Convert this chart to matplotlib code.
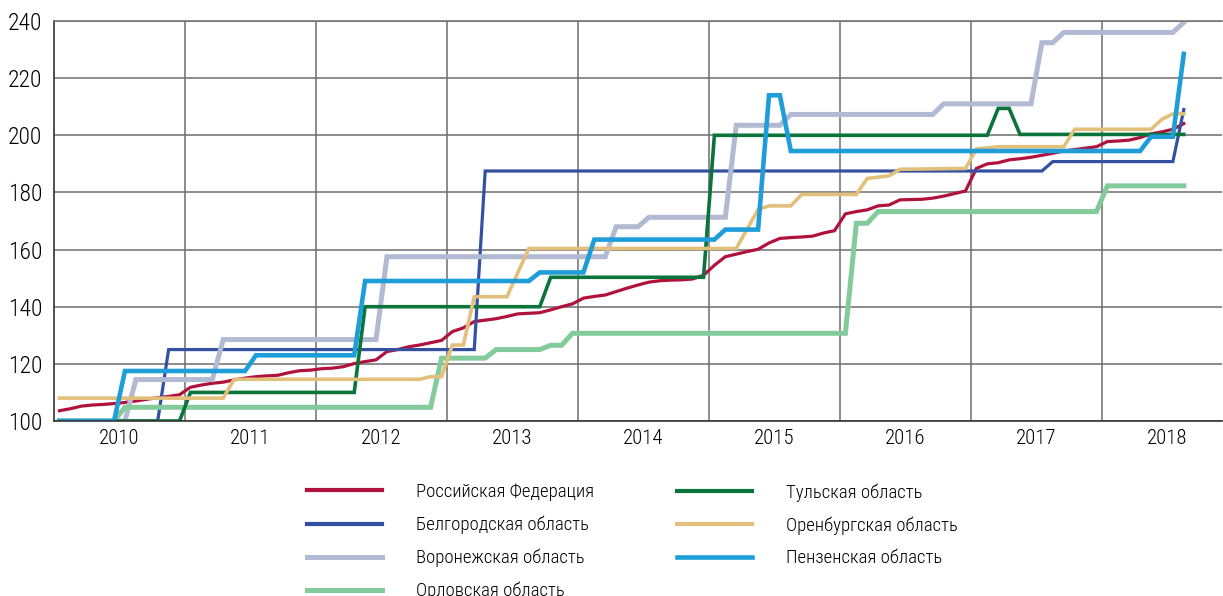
import matplotlib
matplotlib.use("Agg")
import matplotlib.pyplot as plt
import numpy as np

plt.rcParams['font.family'] = ['Roboto Condensed', 'Liberation Sans Narrow', 'Roboto', 'DejaVu Sans']
plt.rcParams['font.weight'] = 'light'

years = [2010, 2011, 2012, 2013, 2014, 2015, 2016, 2017, 2018]

# Российская Федерация, monthly from Jan 2010 to Aug 2018
rf_values = [
    103.6, 104.3, 105.2, 105.6, 105.8, 106.1, 106.5, 107.0, 107.6, 108.2, 108.6, 109.2,
    111.8, 112.6, 113.2, 113.6, 114.4, 115.0, 115.5, 115.8, 116.0, 116.9, 117.6, 117.8,
    118.3, 118.5, 119.0, 120.1, 120.8, 121.4, 124.3, 125.0, 126.0, 126.6, 127.4, 128.2,
    131.3, 132.6, 134.8, 135.3, 135.8, 136.6, 137.5, 137.7, 137.9, 138.9, 140.0, 141.0,
    143.0, 143.6, 144.1, 145.3, 146.5, 147.6, 148.6, 149.1, 149.3, 149.4, 149.7, 151.0,
    154.5, 157.5, 158.4, 159.3, 160.1, 162.3, 163.9, 164.2, 164.4, 164.7, 165.8, 166.6,
    172.5, 173.3, 173.9, 175.3, 175.6, 177.4, 177.5, 177.6, 178.0, 178.7, 179.6, 180.5,
    188.4, 190.0, 190.4, 191.4, 191.8, 192.3, 193.0, 193.7, 194.5, 195.0, 195.5, 196.0,
    197.8, 198.0, 198.3, 199.2, 200.5, 201.2, 202.1, 204.1,
]
rf_months = list(range(len(rf_values)))

# regional series: months (index from Jan 2010) where the level changes
belgorod_months = [0, 9, 10, 38, 39, 90, 91, 102, 103]
belgorod_values = [100, 100, 125, 125, 187.5, 187.5, 190.8, 190.8, 209]

voronezh_months = [0, 6, 7, 14, 15, 29, 30, 50, 51, 53, 54, 61, 62, 66, 67,
                   80, 81, 89, 90, 91, 92, 102, 103]
voronezh_values = [100, 100, 114.5, 114.5, 128.5, 128.5, 157.5, 157.5, 168, 168, 171.3,
                   171.3, 203.5, 203.5, 207.3, 207.3, 211, 211, 232.4, 232.4, 236, 236, 239.5]

orel_months = [0, 5, 6, 34, 35, 39, 40, 44, 45, 46, 47, 72, 73, 74, 75, 95, 96, 103]
orel_values = [100, 100, 104.8, 104.8, 122, 122, 125, 125, 126.5, 126.5, 130.7, 130.7,
               169.2, 169.2, 173.3, 173.3, 182.3, 182.3]

tula_months = [0, 11, 12, 27, 28, 44, 45, 59, 60, 85, 86, 87, 88, 103]
tula_values = [100, 100, 110, 110, 140, 140, 150.3, 150.3, 200, 200, 209.4, 209.4,
               200.3, 200.3]

orenburg_months = [0, 15, 16, 33, 34, 35, 36, 37, 38, 41, 42, 43, 62, 64, 65, 67, 68,
                   73, 74, 76, 77, 83, 84, 86, 92, 93, 100, 101, 102, 103]
orenburg_values = [108, 108, 114.6, 114.6, 115.5, 115.5, 126.6, 126.6, 143.5, 143.5,
                   152, 160.4, 160.4, 174, 175.3, 175.3, 179.3, 179.3, 184.9, 185.8,
                   188.1, 188.4, 195.2, 196, 196, 202.1, 202.1, 205.6, 207.5, 207.5]

penza_months = [0, 5, 6, 17, 18, 27, 28, 43, 44, 48, 49, 60, 61, 64, 65, 66, 67,
                99, 100, 102, 103]
penza_values = [100, 100, 117.5, 117.5, 123, 123, 149, 149, 152, 152, 163.5, 163.5,
                167, 167, 214, 214, 194.5, 194.5, 199.5, 199.5, 228.5]

series = [
    ('Российская Федерация', rf_months, rf_values, '#b1123d', 2.3),
    ('Белгородская область', belgorod_months, belgorod_values, '#3451a1', 2.3),
    ('Воронежская область', voronezh_months, voronezh_values, '#b2b9d3', 3.6),
    ('Орловская область', orel_months, orel_values, '#84cb9c', 3.6),
    ('Тульская область', tula_months, tula_values, '#0a743a', 2.6),
    ('Оренбургская область', orenburg_months, orenburg_values, '#e2c07c', 2.6),
    ('Пензенская область', penza_months, penza_values, '#1e9dd8', 3.3),
]

fig = plt.figure(figsize=(12.23, 5.96), dpi=100)
ax = fig.add_axes([54 / 1223, 1 - 421 / 596, 1168 / 1223, 400 / 596])

handles = []
for name, months, values, color, lw in series:
    x = np.array(months) + 0.5
    line, = ax.plot(x, values, color=color, lw=lw, solid_joinstyle='miter', label=name)
    handles.append(line)

ax.set_xlim(0, 107)
ax.set_ylim(100, 240)

# grid at year boundaries, year labels in the middle of each year
ax.set_xticks([12 * i for i in range(1, len(years))])
ax.set_xticklabels([])
ax.set_xticks([12 * i + 6 for i in range(len(years))], minor=True)
ax.set_xticklabels([str(y) for y in years], minor=True, fontsize=15)
ax.tick_params(axis='x', which='both', length=0, pad=6)
ax.set_yticks(range(100, 241, 20))
ax.tick_params(axis='y', length=0, pad=8.5, labelsize=17)
ax.grid(True, color='#6e6e6e', lw=1.1)
ax.set_axisbelow(True)

ax.spines['right'].set_visible(False)
ax.spines['top'].set_color('#6e6e6e')
ax.spines['top'].set_linewidth(1.1)
ax.spines['left'].set_color('#333333')
ax.spines['bottom'].set_color('#333333')
ax.spines['left'].set_linewidth(1.2)
ax.spines['bottom'].set_linewidth(1.2)

leg_kw = dict(frameon=False, fontsize=13.5, handlelength=4.0, handletextpad=1.8,
              labelspacing=0.78, borderpad=0, borderaxespad=0)
leg1 = fig.legend(handles=handles[:4], loc='upper left', bbox_to_anchor=(307 / 1223, 1 - 483 / 596), **leg_kw)
leg2 = fig.legend(handles=handles[4:], loc='upper left', bbox_to_anchor=(677 / 1223, 1 - 483 / 596), **leg_kw)
for leg in (leg1, leg2):
    for h in leg.legend_handles:
        h.set_linewidth(max(h.get_linewidth(), 3.0))

fig.savefig('out.png', dpi=100)
